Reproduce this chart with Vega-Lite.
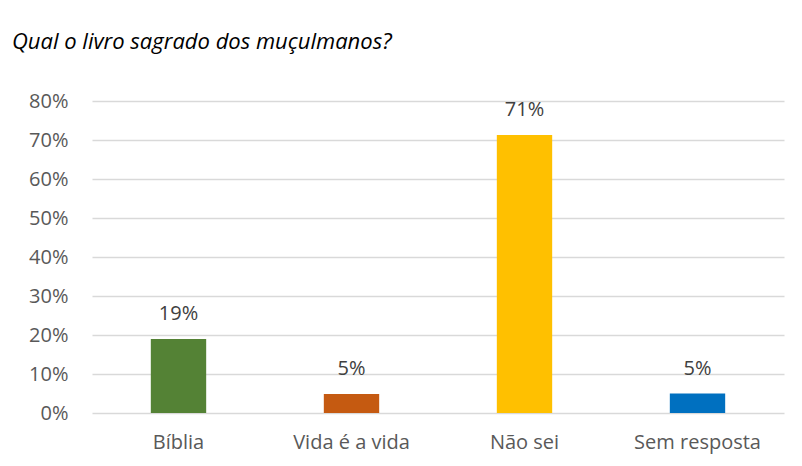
{
  "$schema": "https://vega.github.io/schema/vega-lite/v6.json",
  "width": 692,
  "height": 312,
  "autosize": "none",
  "padding": {"left": 92, "top": 101, "right": 18, "bottom": 53},
  "background": "white",
  "title": {
    "text": "Qual o livro sagrado dos muçulmanos?",
    "anchor": "start",
    "frame": "group",
    "dx": -80,
    "offset": 37,
    "font": "Open Sans",
    "fontStyle": "italic",
    "fontWeight": "normal",
    "fontSize": 22,
    "color": "#000000"
  },
  "data": {
    "values": [
      {"cat": "Bíblia", "v": 0.19, "label": "19%"},
      {"cat": "Vida é a vida", "v": 0.049, "label": "5%"},
      {"cat": "Não sei", "v": 0.713, "label": "71%"},
      {"cat": "Sem resposta", "v": 0.05, "label": "5%"}
    ]
  },
  "config": {"view": {"stroke": null}},
  "encoding": {
    "x": {
      "field": "cat", "type": "nominal", "sort": null,
      "scale": {"paddingInner": 0.68, "paddingOuter": 0.34},
      "axis": {"title": null, "labelAngle": 0, "domain": false, "ticks": false, "labelFont": "Open Sans", "labelFontSize": 20, "labelColor": "#595959", "labelPadding": 19}
    },
    "y": {
      "field": "v", "type": "quantitative",
      "scale": {"domain": [0, 0.8], "nice": false},
      "axis": {"title": null, "format": ".0%", "tickCount": 8, "domain": false, "ticks": false, "labelFont": "Open Sans", "labelFontSize": 20, "labelColor": "#595959", "labelPadding": 24, "gridColor": "#D9D9D9", "gridWidth": 1.5}
    }
  },
  "layer": [
    {
      "mark": {"type": "bar"},
      "encoding": {
        "color": {
          "field": "cat", "type": "nominal", "sort": null, "legend": null,
          "scale": {"domain": ["Bíblia", "Vida é a vida", "Não sei", "Sem resposta"], "range": ["#548235", "#C55A11", "#FFC000", "#0070C0"]}
        }
      }
    },
    {
      "mark": {"type": "text", "baseline": "alphabetic", "dy": -19, "font": "Open Sans", "fontSize": 20, "color": "#404040"},
      "encoding": {"text": {"field": "label"}}
    }
  ]
}
